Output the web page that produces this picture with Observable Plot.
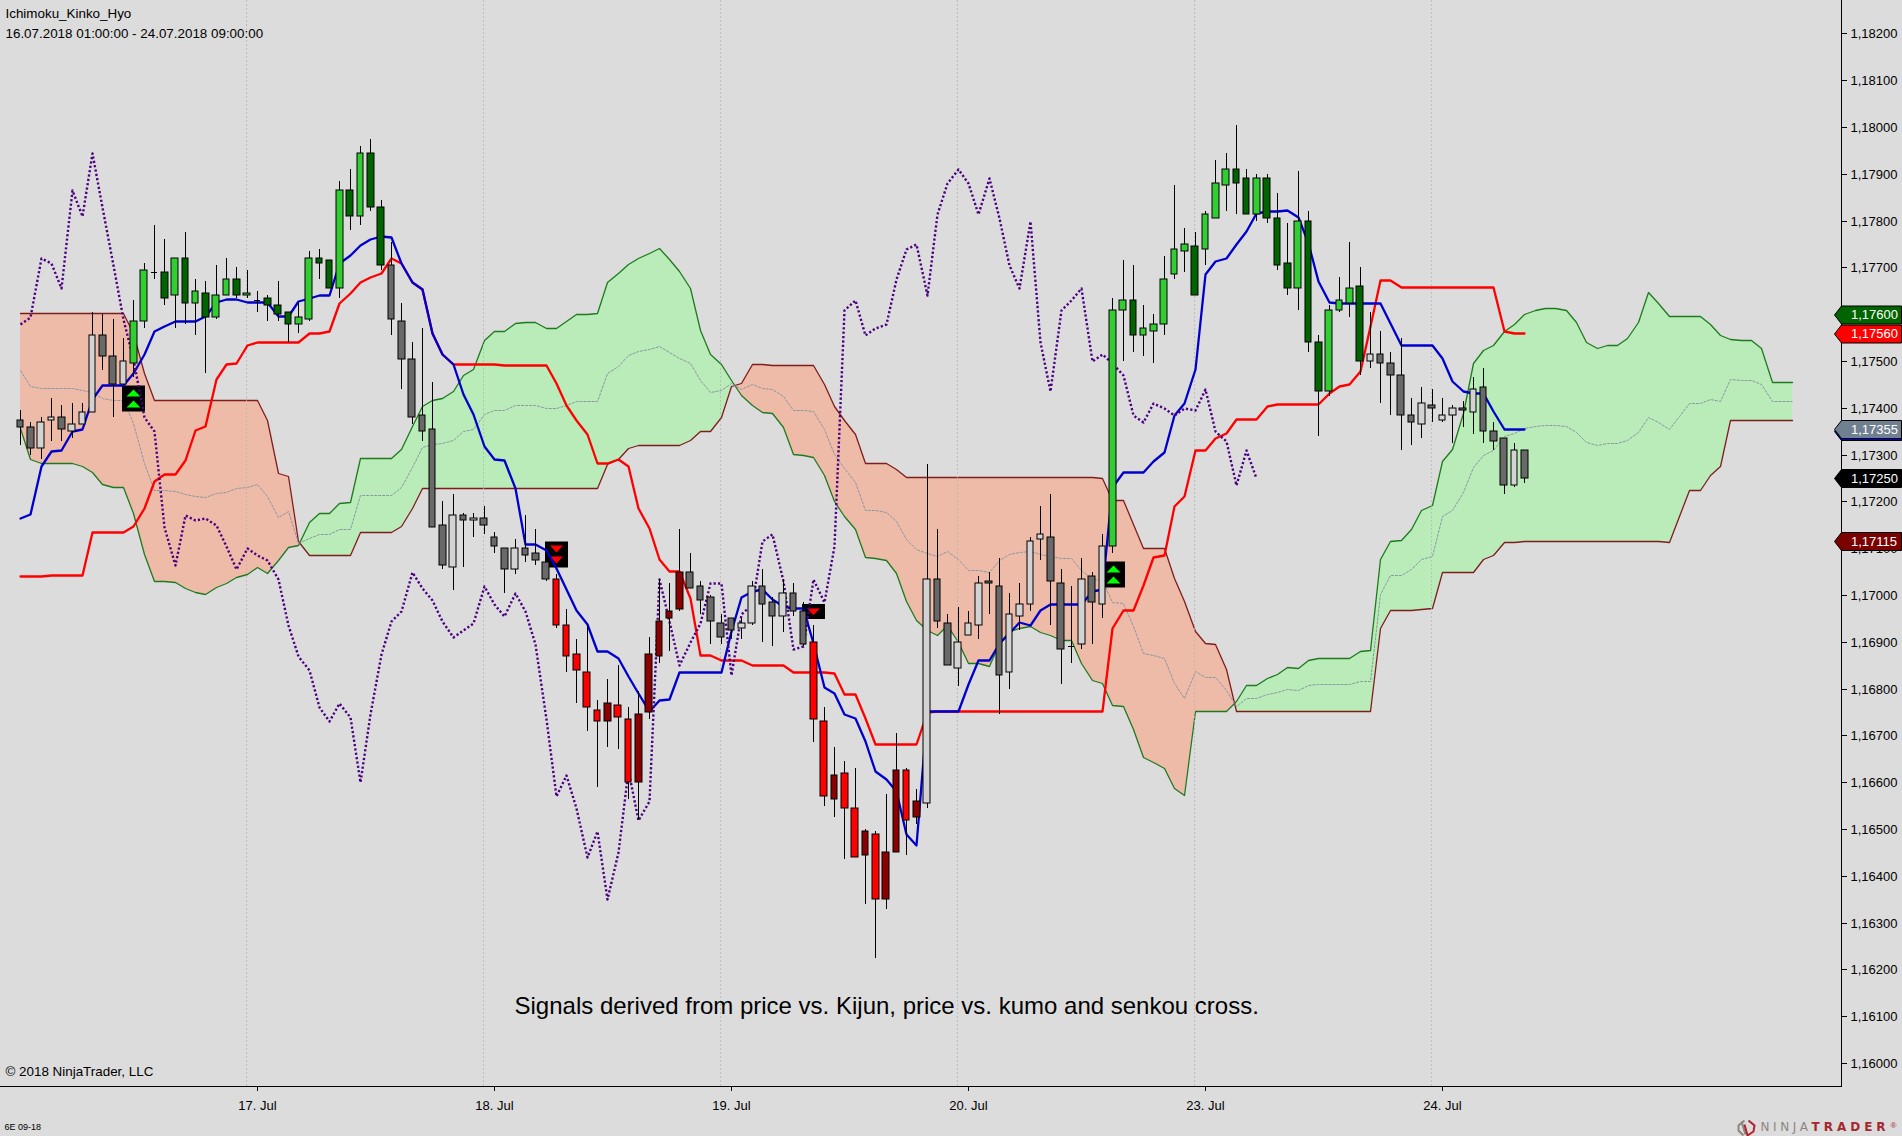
<!DOCTYPE html>
<html>
<head>
<meta charset="utf-8">
<script src="https://cdn.jsdelivr.net/npm/d3@7"></script>
<script src="https://cdn.jsdelivr.net/npm/@observablehq/plot@0.6"></script>
<style>
html,body{margin:0;padding:0;background:#dcdcdc;overflow:hidden}
.ninja text{letter-spacing:3.6px;font-family:"DejaVu Sans",sans-serif}
.trader text{letter-spacing:4px;font-weight:bold;font-family:"DejaVu Sans",sans-serif}
</style>
</head>
<body>
<div id="chart"></div>
<script>
// All prices are in 0.00001 units (117355 = 1,17355). Index = hourly bar number.
const yTicks = [116000,116100,116200,116300,116400,116500,116600,116700,116800,116900,117000,117100,117200,117300,117400,117500,117600,117700,117800,117900,118000,118100,118200];
const dayTicks = [23,46,69,92,115,138];
const dayLabels = ["17. Jul","18. Jul","19. Jul","20. Jul","23. Jul","24. Jul"];
const dayGrid = [22,45,68,91,114,137];

const openP = [117375,117360,117315,117375,117380,117350,117365,117390,117555,117510,117450,117495,117585,117690,117690,117640,117720,117625,117645,117595,117640,117675,117640,117630,117635,117620,117605,117580,117590,117720,117715,117655,117865,117810,117945,117830,117705,117585,117505,117385,117355,117150,117060,117170,117160,117165,117125,117100,117055,117100,117090,117070,117035,116935,116875,116835,116755,116730,116765,116735,116600,116750,116870,116950,116970,117050,117020,116995,116940,116950,116930,116940,117020,116985,116955,117005,116965,116900,116730,116565,116620,116545,116445,116490,116350,116450,116625,116525,116555,117035,116940,116845,116915,116935,117030,117020,116835,116955,116980,117120,117125,117025,116890,116895,117040,116980,117105,117610,117630,117555,117565,117580,117685,117735,117745,117740,117805,117875,117910,117890,117815,117890,117805,117710,117655,117800,117540,117435,117610,117625,117660,117500,117515,117495,117470,117385,117365,117405,117375,117385,117400,117390,117445,117350,117335,117235,117310];
const highP = [117395,117370,117380,117420,117405,117410,117410,117605,117600,117590,117550,117630,117710,117790,117760,117720,117775,117675,117670,117705,117720,117700,117695,117650,117640,117670,117605,117625,117735,117740,117715,117885,117910,117960,117975,117845,117755,117625,117540,117570,117455,117200,117215,117175,117175,117190,117135,117100,117120,117170,117140,117070,117045,116970,116905,116935,116775,116820,116850,116760,116795,116910,117035,117025,117140,117090,117030,117000,116960,116950,116950,117030,117055,116995,117035,117025,116985,116935,116760,116675,116645,116630,116500,116495,116575,116705,116630,116585,117280,117140,116960,116975,116965,117040,117050,117080,117005,117025,117125,117190,117215,117055,117020,117080,117050,117130,117635,117715,117705,117620,117600,117725,117875,117785,117775,117820,117930,117945,118005,117910,117900,117900,117860,117795,117905,117820,117555,117620,117680,117755,117700,117605,117565,117520,117550,117420,117445,117440,117420,117405,117415,117465,117485,117370,117335,117325,117310];
const lowP = [117320,117300,117290,117330,117330,117335,117365,117390,117480,117380,117450,117465,117570,117675,117620,117570,117580,117555,117475,117590,117640,117635,117635,117605,117585,117585,117540,117560,117585,117675,117655,117635,117780,117790,117820,117695,117555,117440,117365,117330,117145,117055,117010,117060,117125,117130,117090,117005,117045,117070,117065,117030,116930,116835,116770,116710,116590,116675,116670,116565,116520,116735,116855,116880,116965,117015,116960,116895,116895,116905,116905,116935,116900,116890,116920,116955,116890,116685,116550,116525,116435,116440,116340,116225,116330,116450,116445,116510,116545,116930,116850,116805,116915,116905,116960,116745,116800,116925,116965,117075,116935,116810,116855,116885,116895,116950,117090,117500,117520,117510,117495,117555,117675,117690,117640,117705,117805,117820,117815,117815,117800,117795,117695,117640,117610,117520,117340,117425,117605,117595,117470,117485,117410,117385,117310,117320,117335,117370,117370,117325,117360,117345,117325,117310,117215,117230,117240];
const closeP = [117360,117315,117370,117380,117355,117365,117390,117555,117510,117450,117500,117585,117695,117690,117635,117720,117625,117650,117595,117640,117675,117640,117645,117630,117620,117600,117580,117595,117720,117710,117655,117865,117810,117945,117830,117705,117590,117505,117380,117350,117145,117065,117170,117160,117165,117150,117105,117055,117100,117085,117075,117035,116935,116870,116840,116760,116730,116770,116740,116600,116745,116875,116945,116965,117050,117015,116990,116945,116910,116925,116940,117020,116980,116955,117005,116965,116895,116735,116570,116615,116545,116440,116495,116350,116450,116625,116520,116560,117035,116945,116850,116900,116940,117025,117025,116830,116960,116980,117115,117130,117030,116885,116890,117035,116985,117105,117610,117630,117555,117570,117580,117675,117740,117750,117640,117815,117880,117910,117880,117815,117890,117805,117705,117655,117800,117540,117435,117610,117630,117655,117500,117515,117495,117470,117385,117370,117410,117400,117385,117400,117395,117440,117350,117330,117235,117310,117250];
const bodyTone = "ffeefeeeffe"+"aaabababaa"+"baabbbaabb"+"ababb"+"ffffff"+"efefffefff"+"ccccc"+"dccddddd"+"fffff"+"eeffeff"+"ccdccdcddcd"+"effeeeffeeeeffeefe"+"aabaaaaabaaabbabbbabbaaab"+"effffefeefefffef";

const tenkan = [117164,117174,117275,117307,117309,117350,117354,117418,117448,117448,117448,117475,117514,117564,117575,117585,117585,117585,117596,117626,117632,117632,117626,117626,117626,117597,117597,117628,117635,117640,117640,117710,117726,117748,117760,117768,117765,117710,117669,117653,117560,117514,117493,117429,117386,117318,117291,117288,117229,117110,117110,117097,117058,117012,116969,116939,116880,116880,116865,116827,116791,116752,116775,116777,116835,116835,116835,116835,116835,116923,116996,117008,117013,116991,116976,116973,116973,116898,116804,116791,116745,116737,116688,116624,116606,116581,116490,116466,116752,116752,116752,116752,116809,116862,116862,116898,116919,116942,116936,116967,116980,116980,116980,116980,117008,117012,117230,117263,117263,117263,117287,117306,117385,117411,117482,117685,117714,117720,117750,117778,117817,117820,117820,117823,117807,117753,117671,117626,117624,117624,117624,117624,117624,117582,117534,117534,117534,117534,117507,117457,117436,117432,117432,117393,117355,117355,117355];
const kijun = [117040,117040,117040,117042,117042,117042,117042,117135,117135,117135,117135,117147,117186,117243,117258,117258,117288,117352,117362,117461,117493,117495,117535,117540,117540,117540,117540,117540,117559,117559,117564,117623,117646,117669,117679,117689,117720,117710,117669,117653,117560,117514,117493,117493,117493,117493,117493,117491,117491,117491,117491,117491,117453,117405,117374,117343,117281,117281,117290,117275,117186,117144,117077,117051,117051,116994,116872,116872,116861,116861,116861,116850,116850,116850,116850,116835,116835,116835,116835,116833,116788,116788,116738,116681,116681,116681,116681,116681,116751,116752,116752,116752,116752,116752,116752,116752,116752,116752,116752,116752,116752,116752,116752,116752,116752,116752,116930,116969,116969,117022,117081,117086,117191,117211,117309,117309,117336,117346,117376,117376,117376,117404,117408,117408,117408,117408,117408,117432,117447,117451,117479,117575,117673,117673,117658,117658,117658,117658,117658,117658,117658,117658,117658,117658,117564,117560,117560];
const chikou = [117580,117595,117720,117710,117655,117865,117810,117945,117830,117705,117590,117505,117380,117350,117145,117065,117170,117160,117165,117150,117105,117055,117100,117085,117075,117035,116935,116870,116840,116760,116730,116770,116740,116600,116745,116875,116945,116965,117050,117015,116990,116945,116910,116925,116940,117020,116980,116955,117005,116965,116895,116735,116570,116615,116545,116440,116495,116350,116450,116625,116520,116560,117035,116945,116850,116900,116940,117025,117025,116830,116960,116980,117115,117130,117030,116885,116890,117035,116985,117105,117610,117630,117555,117570,117580,117675,117740,117750,117640,117815,117880,117910,117880,117815,117890,117805,117705,117655,117800,117540,117435,117610,117630,117655,117500,117515,117495,117470,117385,117370,117410,117400,117385,117400,117395,117440,117350,117330,117235,117310,117250];
const senkouA = [117357,117291,117281,117281,117281,117281,117275,117263,117238,117231,117231,117176,117088,117030,117030,117028,117015,117007,117002,117017,117025,117038,117044,117059,117047,117074,117102,117106,117156,117176,117176,117196,117199,117292,117292,117292,117292,117313,117361,117404,117417,117420,117436,117471,117482,117545,117564,117564,117581,117584,117584,117570,117570,117585,117600,117600,117602,117669,117689,117708,117721,117730,117741,117717,117692,117657,117567,117515,117493,117460,117428,117406,117391,117389,117359,117301,117300,117294,117257,117200,117168,117140,117081,117079,117074,117047,116987,116946,116926,116914,116936,116900,116855,116855,116848,116898,116923,116930,116933,116921,116914,116904,116904,116855,116818,116811,116766,116762,116713,116654,116643,116630,116588,116572,116752,116752,116752,116752,116773,116807,116807,116823,116832,116847,116844,116861,116865,116865,116865,116865,116880,116882,117076,117116,117117,117142,117182,117193,117286,117311,117389,117496,117524,117534,117564,117580,117600,117610,117614,117614,117608,117583,117540,117527,117534,117535,117549,117584,117647,117624,117596,117596,117596,117596,117579,117556,117548,117544,117544,117527,117456,117455,117455];
const senkouB = [117602,117602,117602,117602,117602,117602,117602,117602,117602,117602,117602,117560,117475,117417,117417,117417,117417,117417,117417,117417,117417,117417,117417,117417,117374,117260,117255,117115,117085,117085,117085,117085,117085,117134,117134,117134,117134,117147,117186,117228,117228,117228,117228,117228,117228,117228,117228,117228,117228,117228,117228,117228,117228,117228,117228,117228,117228,117279,117290,117315,117320,117320,117320,117320,117320,117332,117350,117350,117380,117446,117453,117494,117493,117491,117491,117491,117491,117491,117450,117404,117375,117343,117282,117282,117282,117270,117252,117252,117252,117252,117252,117252,117252,117252,117252,117252,117252,117252,117252,117252,117252,117252,117252,117252,117252,117250,117204,117204,117152,117100,117100,117100,117037,116987,116923,116898,116896,116841,116752,116752,116752,116752,116752,116752,116752,116752,116752,116752,116752,116752,116752,116752,116930,116969,116969,116969,116970,116973,117050,117050,117050,117050,117076,117086,117114,117114,117115,117115,117115,117115,117115,117115,117115,117115,117115,117115,117115,117115,117115,117115,117114,117168,117225,117225,117257,117275,117375,117375,117375,117375,117375,117375,117375];
const kumoMid = [117480,117447,117442,117442,117442,117442,117439,117433,117420,117417,117417,117368,117282,117224,117224,117223,117216,117212,117210,117217,117221,117228,117231,117238,117211,117167,117179,117111,117121,117131,117131,117141,117142,117213,117213,117213,117213,117230,117274,117316,117323,117324,117332,117350,117355,117387,117396,117396,117405,117406,117406,117399,117399,117407,117414,117414,117415,117474,117490,117512,117521,117525,117531,117519,117506,117495,117459,117433,117437,117453,117441,117450,117442,117440,117425,117396,117396,117393,117354,117302,117272,117242,117182,117181,117178,117159,117120,117099,117089,117083,117094,117076,117054,117054,117050,117075,117088,117091,117093,117087,117083,117078,117078,117054,117035,117031,116985,116983,116933,116877,116872,116865,116813,116780,116838,116825,116824,116797,116763,116780,116780,116788,116792,116800,116798,116807,116809,116809,116809,116809,116816,116817,117003,117043,117043,117056,117076,117083,117168,117181,117220,117273,117300,117310,117339,117347,117357,117362,117364,117364,117361,117349,117327,117321,117324,117325,117332,117349,117381,117369,117355,117382,117410,117410,117418,117415,117461,117459,117459,117451,117415,117415,117415];

const signalBar = [11,52,77,106.1];
const signalPrice = [117420,117087,116966,117044];
const signalKind = ["up2","down2","down1","up2"];

const flagPrice = [117600,117560,117355,117355,117250,117115];
const flagFill = ["#006400","#ff0000","#0000cd","#708090","#000000","#7b0000"];
const flagShift = [0.5,0.5,2,0,0,0];

const toneColor = {a:"#32cd32",b:"#006400",c:"#ff0000",d:"#8b0000",e:"#d3d3d3",f:"#696969"};
const bars = d3.range(openP.length);
const fmtPrice = d => (d/1e5).toFixed(5).replace(".",",");

// Kumo table, split exactly at each senkou cross so the two fills meet in a point.
const kumo = [];
senkouA.forEach((a,i)=>{
  const b = senkouB[i];
  kumo.push({i,a,b});
  if (i+1<senkouA.length){
    const d0=a-b, d1=senkouA[i+1]-senkouB[i+1];
    if (d0*d1<0){
      const t=d0/(d0-d1);
      const v=a+t*(senkouA[i+1]-a);
      kumo.push({i:i+t,a:v,b:v});
    }
  }
});

const sym = f => ({draw(c){f(c)}});
const poly = (c,pts)=>{pts.forEach((p,k)=>k?c.lineTo(p[0],p[1]):c.moveTo(p[0],p[1]));c.closePath();};
const flagSym = sym(c=>poly(c,[[-7,0],[0,-9],[60,-9],[60,9],[0,9]]));
const boxTall = sym(c=>poly(c,[[-11.5,-13],[11.5,-13],[11.5,13],[-11.5,13]]));
const boxShort = sym(c=>poly(c,[[-11.5,-7.5],[11.5,-7.5],[11.5,7.5],[-11.5,7.5]]));
const up2 = sym(c=>{poly(c,[[0,-9],[7,-2],[-7,-2]]);poly(c,[[0,2],[7,9],[-7,9]]);});
const down2 = sym(c=>{poly(c,[[-6.5,-9],[6.5,-9],[0,-2]]);poly(c,[[-6.5,2],[6.5,2],[0,9]]);});
const down1 = sym(c=>poly(c,[[-6.5,-3],[6.5,-3],[0,3.5]]));
const logoRing = sym(c=>{c.moveTo(-2,-7);c.lineTo(-8,-2);c.lineTo(-8,3);c.lineTo(-3,8);c.moveTo(-5,-6);c.lineTo(-1,7);});
const logoV = sym(c=>{c.moveTo(2,-7);c.lineTo(8,-2);c.lineTo(7,4);c.lineTo(1,8);c.lineTo(-2,-3);});

const signals = signalBar.map((b,k)=>({b,p:signalPrice[k],k:signalKind[k]}));
const flags = flagPrice.map((p,k)=>({p,fill:flagFill[k],dy:flagShift[k]}));

const note = (t,o)=>Plot.text([t],{text:d=>d,frameAnchor:"bottom-left",textAnchor:"start",lineAnchor:"middle",fill:"#000",fontSize:13.4,...o});

const chart = Plot.plot({
  width:1902,height:1136,
  marginLeft:0,marginTop:0,marginRight:61,marginBottom:50,
  style:{background:"#dcdcdc",fontFamily:"'Liberation Sans',Arial,sans-serif",fontSize:"13px",color:"#000"},
  x:{domain:[0,172],range:[20,1792.3],round:true},
  y:{domain:[116000,118200],range:[1063,33.4],round:true},
  marks:[
    Plot.areaY(kumo,{x:"i",y1:d=>d.b,y2:d=>Math.max(d.a,d.b),fill:"#b9ecb9"}),
    Plot.areaY(kumo,{x:"i",y1:d=>d.a,y2:d=>Math.max(d.a,d.b),fill:"#eebba9"}),
    Plot.line(senkouA,{x:(d,i)=>i,y:d=>d,stroke:"#1f7a1f",strokeWidth:1.3,curve:"linear"}),
    Plot.line(senkouB,{x:(d,i)=>i,y:d=>d,stroke:"#7f1d1d",strokeWidth:1.3,curve:"linear"}),
    Plot.line(kumoMid,{x:(d,i)=>i,y:d=>d,stroke:"#8a96a3",strokeWidth:1,strokeLinecap:"butt",strokeDasharray:"3,1"}),
    Plot.ruleX(dayGrid,{x:d=>d,dx:-1,stroke:"#b4b4b4",strokeOpacity:.75,strokeWidth:1,strokeDasharray:"2,2"}),
    Plot.dot(signals.filter(d=>d.k!=="down1"),{x:"b",y:"p",symbol:boxTall,fill:"#000",stroke:"none"}),
    Plot.dot(signals.filter(d=>d.k==="down1"),{x:"b",y:"p",symbol:boxShort,fill:"#000",stroke:"none"}),
    Plot.dot(signals.filter(d=>d.k==="up2"),{x:"b",y:"p",symbol:up2,fill:"#00ff00",stroke:"none"}),
    Plot.dot(signals.filter(d=>d.k==="down2"),{x:"b",y:"p",symbol:down2,fill:"#ff0000",stroke:"none"}),
    Plot.dot(signals.filter(d=>d.k==="down1"),{x:"b",y:"p",symbol:down1,fill:"#ff0000",stroke:"none"}),
    Plot.line(kijun,{x:(d,i)=>i,y:d=>d,stroke:"#ff0000",strokeWidth:2.3}),
    Plot.line(tenkan,{x:(d,i)=>i,y:d=>d,stroke:"#0000cd",strokeWidth:2.3}),
    Plot.line(chikou,{x:(d,i)=>i,y:d=>d,stroke:"#4b0082",strokeWidth:2.4,strokeLinecap:"butt",strokeDasharray:"2.2,2.2"}),
    Plot.ruleX(bars,{x:i=>i,y1:i=>lowP[i],y2:i=>highP[i],stroke:"#000",strokeWidth:1}),
    Plot.rect(bars.filter(i=>openP[i]!==closeP[i]),{x1:i=>i-.32,x2:i=>i+.32,y1:i=>openP[i],y2:i=>closeP[i],fill:i=>toneColor[bodyTone[i]],stroke:"#000",strokeWidth:1}),
    Plot.ruleY(bars.filter(i=>openP[i]===closeP[i]),{x1:i=>i-.32,x2:i=>i+.32,y:i=>openP[i],stroke:"#000",strokeWidth:1}),
    Plot.frame({anchor:"right",stroke:"#000",strokeWidth:1}),
    Plot.frame({anchor:"bottom",stroke:"#000",strokeWidth:1}),
    Plot.axisY({anchor:"right",ticks:yTicks,tickFormat:fmtPrice,tickSize:5,tickPadding:4,fontSize:13,label:null}),
    Plot.axisX({anchor:"bottom",ticks:dayTicks,tickFormat:d=>dayLabels[dayTicks.indexOf(d)],tickSize:5,tickPadding:9,fontSize:13,label:null}),
    ...flags.map(f=>Plot.dot([f],{frameAnchor:"right",y:"p",dy:f.dy,symbol:flagSym,fill:f.fill,stroke:"#000",strokeWidth:1})),
    Plot.text(flagPrice.filter((p,k)=>k!==2),{frameAnchor:"right",y:d=>d,dy:0.5,text:fmtPrice,textAnchor:"start",dx:9.5,fill:"#fff",fontSize:13}),
    note("Ichimoku_Kinko_Hyo",{dx:5,dy:-1072.5}),
    note("16.07.2018 01:00:00 - 24.07.2018 09:00:00",{dx:5,dy:-1053,fontSize:13.4}),
    note("© 2018 NinjaTrader, LLC",{dx:5,dy:-14.3}),
    note("6E 09-18",{dx:4,dy:40.7,fontSize:9}),
    note("Signals derived from price vs. Kijun, price vs. kumo and senkou cross.",{dx:514,dy:-80.5,fontSize:24}),
    note("NINJA",{dx:1760,dy:41,fontSize:12,fill:"#8c8681",className:"ninja"}),
    note("TRADER",{dx:1811,dy:41,fontSize:12,fill:"#a5282e",className:"trader"}),
    note("®",{dx:1890,dy:39,fontSize:8,fill:"#a5282e"}),
    Plot.dot([0],{frameAnchor:"bottom-left",dx:1746,dy:41,symbol:logoRing,fill:"none",stroke:"#8c8681",strokeWidth:2}),
    Plot.dot([0],{frameAnchor:"bottom-left",dx:1746,dy:41,symbol:logoV,fill:"none",stroke:"#b3202a",strokeWidth:2})
  ]
});
document.getElementById("chart").appendChild(chart);
</script>
</body>
</html>
